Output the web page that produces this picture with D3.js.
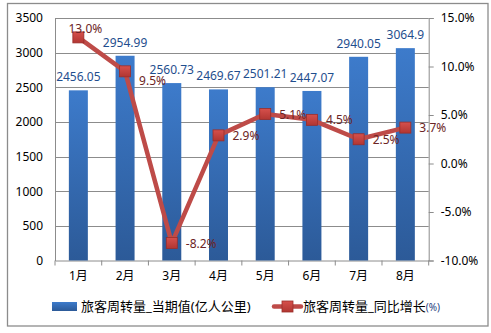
<!DOCTYPE html>
<html>
<head>
<meta charset="utf-8">
<script src="https://cdn.jsdelivr.net/npm/d3@7/dist/d3.min.js"></script>
<style>
  html, body { margin: 0; padding: 0; background: #fff; }
  svg { display: block; }
  text { font-family: "Noto Sans", "Noto Sans CJK SC", sans-serif; }
</style>
</head>
<body>
<svg id="chart" width="491" height="333"></svg>
<script>
// Monthly passenger turnover (亿人公里) and year-on-year growth (%)
const months = ["1月", "2月", "3月", "4月", "5月", "6月", "7月", "8月"];
const volume = [2456.05, 2954.99, 2560.73, 2469.67, 2501.21, 2447.07, 2940.05, 3064.9];
const growth = [13.0, 9.5, -8.2, 2.9, 5.1, 4.5, 2.5, 3.7];
const leftTicks = [0, 500, 1000, 1500, 2000, 2500, 3000, 3500];
const rightTicks = [-10, -5, 0, 5, 10, 15];
const seriesNames = ["旅客周转量_当期值(亿人公里)", "旅客周转量_同比增长"];

const svg = d3.select("#chart");
const plot = { left: 55, right: 428.7, top: 18, bottom: 260.5 };

// Frame around the whole chart
svg.append("rect")
  .attr("x", 7.5).attr("y", 3.5).attr("width", 480.5).attr("height", 322.5)
  .attr("fill", "#fff").attr("stroke", "#8c8c8c").attr("stroke-width", 1.3);

const defs = svg.append("defs");
const barGrad = defs.append("linearGradient").attr("id", "barGrad")
  .attr("x1", 0).attr("y1", 0).attr("x2", 0).attr("y2", 1);
barGrad.append("stop").attr("offset", "0%").attr("stop-color", "#3d7bcb");
barGrad.append("stop").attr("offset", "100%").attr("stop-color", "#2c5a98");
const mkGrad = defs.append("linearGradient").attr("id", "mkGrad")
  .attr("x1", 0).attr("y1", 0).attr("x2", 0).attr("y2", 1);
mkGrad.append("stop").attr("offset", "0%").attr("stop-color", "#d6504c");
mkGrad.append("stop").attr("offset", "100%").attr("stop-color", "#b13632");

const x = d3.scaleBand().domain(months).range([plot.left, plot.right]).padding(0);
const yL = d3.scaleLinear().domain([0, 3500]).range([plot.bottom, plot.top]);
const yR = d3.scaleLinear().domain([-10, 15]).range([plot.bottom, plot.top]);

// Horizontal gridlines
svg.append("g").selectAll("line").data(leftTicks.slice(1)).join("line")
  .attr("x1", plot.left).attr("x2", plot.right)
  .attr("y1", d => Math.round(yL(d)) + 0.5).attr("y2", d => Math.round(yL(d)) + 0.5)
  .attr("stroke", "#8c8c8c").attr("stroke-width", 1);

// Left axis
const axL = svg.append("g").attr("transform", `translate(${plot.left},0)`)
  .call(d3.axisLeft(yL).tickValues(leftTicks).tickSize(0).tickPadding(12).tickFormat(d3.format("d")));
axL.select(".domain").attr("stroke", "#8c8c8c");
axL.selectAll("text").attr("font-size", 12).attr("fill", "#000");

// Right axis
const axR = svg.append("g").attr("transform", `translate(${plot.right},0)`)
  .call(d3.axisRight(yR).tickValues(rightTicks).tickSize(5).tickPadding(7).tickFormat(d => d.toFixed(1) + "%"));
axR.select(".domain").attr("stroke", "#8c8c8c");
axR.selectAll(".tick line").attr("stroke", "#8c8c8c");
axR.selectAll("text").attr("font-size", 12).attr("fill", "#000");

// Bottom axis with ticks on category boundaries
const axB = svg.append("g").attr("transform", `translate(0,${plot.bottom})`)
  .call(d3.axisBottom(x).tickSize(0).tickPadding(11));
axB.select(".domain").attr("stroke", "#8c8c8c");
axB.selectAll("text").attr("font-size", 12).attr("fill", "#000");
svg.append("g").selectAll("line").data(d3.range(months.length + 1)).join("line")
  .attr("x1", i => plot.left + i * x.bandwidth()).attr("x2", i => plot.left + i * x.bandwidth())
  .attr("y1", plot.bottom).attr("y2", plot.bottom + 5)
  .attr("stroke", "#8c8c8c");

// Bars
const barW = 19;
const cx = m => x(m) + x.bandwidth() / 2;
svg.append("g").selectAll("rect").data(volume).join("rect")
  .attr("x", (d, i) => cx(months[i]) - barW / 2)
  .attr("y", d => yL(d))
  .attr("width", barW)
  .attr("height", d => yL(0) - yL(d))
  .attr("fill", "url(#barGrad)");

// Bar value labels
svg.append("g").selectAll("text").data(volume).join("text")
  .attr("x", (d, i) => cx(months[i]))
  .attr("y", d => yL(d) - 9)
  .attr("text-anchor", "middle")
  .attr("font-size", 12).attr("fill", "#1f4e8e")
  .text(d => d);

// Growth line
const line = d3.line().x((d, i) => cx(months[i])).y(d => yR(d));
svg.append("path").datum(growth)
  .attr("d", line).attr("fill", "none")
  .attr("stroke", "#be4b48").attr("stroke-width", 4.5).attr("stroke-linejoin", "round");

// Square markers
const mk = 11;
svg.append("g").selectAll("rect").data(growth).join("rect")
  .attr("x", (d, i) => cx(months[i]) - mk / 2)
  .attr("y", d => yR(d) - mk / 2)
  .attr("width", mk).attr("height", mk)
  .attr("fill", "url(#mkGrad)").attr("stroke", "#9b2d2a").attr("stroke-width", 0.8);

// Growth labels: right of the marker; January above it, February nudged down
const dxLab = [7, 14, 14, 14, 14, 14, 14, 14];
const dyLab = [-4.5, 13.5, 4.5, 4.5, 4.5, 4.5, 4.5, 4.5];
svg.append("g").selectAll("text").data(growth).join("text")
  .attr("x", (d, i) => cx(months[i]) + dxLab[i])
  .attr("y", (d, i) => yR(d) + dyLab[i])
  .attr("text-anchor", (d, i) => i === 0 ? "middle" : "start")
  .attr("font-size", 12).attr("fill", "#6b2424")
  .text(d => d.toFixed(1) + "%");

// Legend
const lg = svg.append("g");
lg.append("rect").attr("x", 52).attr("y", 302).attr("width", 25).attr("height", 9).attr("fill", "url(#barGrad)");
lg.append("text").attr("x", 81).attr("y", 311).attr("font-size", 13).attr("fill", "#000")
  .attr("font-family", "'Noto Sans CJK SC', sans-serif").text(seriesNames[0]);
lg.append("line").attr("x1", 274).attr("x2", 301).attr("y1", 306.5).attr("y2", 306.5)
  .attr("stroke", "#be4b48").attr("stroke-width", 4.5).attr("stroke-linecap", "round");
lg.append("rect").attr("x", 282).attr("y", 301).attr("width", 11).attr("height", 11)
  .attr("fill", "url(#mkGrad)").attr("stroke", "#9b2d2a").attr("stroke-width", 0.8);
const t2 = lg.append("text").attr("x", 303).attr("y", 311).attr("font-size", 13).attr("fill", "#000")
  .attr("font-family", "'Noto Sans CJK SC', sans-serif");
t2.append("tspan").text(seriesNames[1]);
t2.append("tspan").attr("font-size", 10).attr("fill", "#1f3f7f").text("(%)");
</script>
</body>
</html>
